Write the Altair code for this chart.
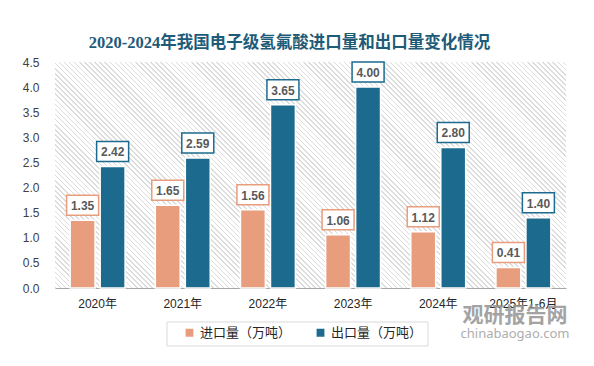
import math
import altair as alt
import pandas as pd

categories = ["2020年", "2021年", "2022年", "2023年", "2024年", "2025年1-6月"]
imports = [1.35, 1.65, 1.56, 1.06, 1.12, 0.41]
exports = [2.42, 2.59, 3.65, 4.00, 2.80, 1.40]
series = ["进口量（万吨）", "出口量（万吨）"]
colors = ["#E89D7D", "#1C6B8E"]
y_ticks = [0, 0.5, 1.0, 1.5, 2.0, 2.5, 3.0, 3.5, 4.0, 4.5]
title_text = "2020-2024年我国电子级氢氟酸进口量和出口量变化情况"
wm_cn = "观研报告网"
wm_en = "chinabaogao.com"

rows = []
for c, i, e in zip(categories, imports, exports):
    rows.append({"year": c, "series": series[0], "value": i, "label": f"{i:.2f}"})
    rows.append({"year": c, "series": series[1], "value": e, "label": f"{e:.2f}"})
df = pd.DataFrame(rows)

W, H = 511, 226

# diagonal hatch as a striped linear gradient (45 degree "\" stripes)
a, b = W, H
cfac = (a + b) / (a * a + b * b)
L = (a + b) / math.sqrt(2)
period, lw = 3.6, 1.1
stops = []
k = 0
line_c, bg_c = "#dcdcdc", "#ffffff"
while k * period < L:
    o0 = k * period / L
    o1 = min((k * period + lw) / L, 1)
    o2 = min((k + 1) * period / L, 1)
    stops += [
        {"offset": o0, "color": line_c},
        {"offset": o1, "color": line_c},
        {"offset": o1, "color": bg_c},
        {"offset": o2, "color": bg_c},
    ]
    k += 1
hatch = alt.LinearGradient(
    gradient="linear", x1=0, y1=1, x2=a * cfac, y2=1 - b * cfac,
    stops=[alt.GradientStop(offset=s["offset"], color=s["color"]) for s in stops],
)

base = alt.Chart(df)

x_enc = alt.X(
    "year:N", sort=categories,
    scale=alt.Scale(paddingInner=0.355, paddingOuter=0.178),
    axis=alt.Axis(title=None, labelAngle=0, ticks=False, tickSize=0,
                  domainColor="#a6a6a6", domainWidth=1,
                  labelFontSize=12, labelColor="#262626", labelPadding=10,
                  labelFont="Liberation Sans, Noto Sans CJK SC"),
)
xo_enc = alt.XOffset("series:N", sort=series, scale=alt.Scale(paddingInner=0.17))
y_enc = alt.Y(
    "value:Q", scale=alt.Scale(domain=[0, 4.5]),
    axis=alt.Axis(title=None, values=y_ticks, format=".1f", grid=False,
                  ticks=False, tickSize=0, domain=False, labelPadding=16,
                  labelFontSize=12, labelColor="#404040",
                  labelFont="Liberation Sans"),
)

one_df = pd.DataFrame({"k": [0]})
bg = alt.Chart(one_df).mark_rect(fill=hatch, strokeWidth=0).encode(
    x=alt.value(0), x2=alt.value(W), y=alt.value(0), y2=alt.value(H)
)

bars = base.mark_bar(stroke="white", strokeWidth=1.5).encode(
    x=x_enc, xOffset=xo_enc, y=y_enc,
    color=alt.Color(
        "series:N", sort=series,
        scale=alt.Scale(domain=series, range=colors),
        legend=alt.Legend(
            title=None, orient="none", legendX=128, legendY=264,
            direction="horizontal", symbolType="square", symbolSize=40,
            labelFontSize=13, labelColor="#262626", labelOffset=4,
            columnPadding=22, padding=0,
            labelFont="Noto Sans CJK SC",
        ),
    ),
)

boxes = base.mark_point(
    shape="M-1,-1.5625H1V-0.3125H-1Z", size=1024, filled=False,
    fill="white", fillOpacity=1, strokeWidth=1.5, opacity=1,
).encode(
    x=x_enc, xOffset=xo_enc, y=y_enc,
    stroke=alt.Stroke("series:N", sort=series,
                      scale=alt.Scale(domain=series, range=colors), legend=None),
)

labels = base.mark_text(
    dy=-14, fontSize=12, fontWeight="bold", color="#595959",
    font="Liberation Sans", baseline="middle",
).encode(x=x_enc, xOffset=xo_enc, y=y_enc, text="label:N")

frame = alt.Chart(one_df).mark_rect(
    fillOpacity=0, stroke="#d9d9d9", strokeWidth=1
).encode(x=alt.value(112), x2=alt.value(373), y=alt.value(260), y2=alt.value(284))

wm1 = alt.Chart(one_df).mark_text(
    fontSize=21, fontWeight="bold", color="#939393", opacity=0.85,
    font="Noto Sans CJK SC",
).encode(x=alt.value(460), y=alt.value(254), text=alt.value(wm_cn))
wm2 = alt.Chart(one_df).mark_text(
    fontSize=13, color="#a6a6a6", opacity=0.9, font="Noto Sans",
).encode(x=alt.value(460), y=alt.value(272), text=alt.value(wm_en))

chart = alt.layer(bg, bars, boxes, labels, frame, wm1, wm2).properties(
    width=W, height=H,
    autosize=alt.AutoSizeParams(type="none"),
    padding={"left": 47, "top": 54, "right": 20, "bottom": 66},
    background="white",
    title=alt.TitleParams(
        title_text, fontSize=16.5, fontWeight="bold", color="#1d5b79",
        font="Liberation Serif, Noto Sans CJK SC", anchor="middle",
        dx=-21, offset=5,
    ),
).configure_view(strokeWidth=0)

chart.save("out.html", embed_options={"renderer": "svg", "actions": False})
